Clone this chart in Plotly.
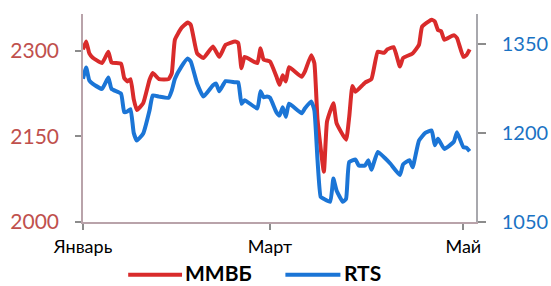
import plotly.graph_objects as go

# ---- data ----
mmvb_dates = [
    "2014-01-01", "2014-01-02", "2014-01-03", "2014-01-04", "2014-01-07", "2014-01-09",
    "2014-01-10", "2014-01-13", "2014-01-14", "2014-01-15", "2014-01-16", "2014-01-17",
    "2014-01-18", "2014-01-20", "2014-01-22", "2014-01-23", "2014-01-25", "2014-01-28",
    "2014-01-29", "2014-01-30", "2014-02-01", "2014-02-03", "2014-02-04", "2014-02-06",
    "2014-02-08", "2014-02-11", "2014-02-13", "2014-02-15", "2014-02-18", "2014-02-19",
    "2014-02-20", "2014-02-21", "2014-02-25", "2014-02-26", "2014-02-27", "2014-03-01",
    "2014-03-03", "2014-03-04", "2014-03-05", "2014-03-06", "2014-03-07", "2014-03-11",
    "2014-03-12", "2014-03-14", "2014-03-15", "2014-03-16", "2014-03-18", "2014-03-19",
    "2014-03-21", "2014-03-22", "2014-03-25", "2014-03-26", "2014-03-27", "2014-03-28",
    "2014-03-31", "2014-04-02", "2014-04-04", "2014-04-06", "2014-04-07", "2014-04-09",
    "2014-04-11", "2014-04-12", "2014-04-15", "2014-04-17", "2014-04-18", "2014-04-21",
    "2014-04-22", "2014-04-23", "2014-04-24", "2014-04-25", "2014-04-28", "2014-04-29",
    "2014-05-01", "2014-05-02", "2014-05-03",
]
mmvb_values = [
    2302, 2316, 2295, 2288, 2278, 2298,
    2279, 2277, 2252, 2246, 2250, 2215,
    2196, 2208, 2249, 2261, 2250, 2250,
    2260, 2319, 2339, 2349, 2345, 2295,
    2287, 2307, 2289, 2310, 2316, 2313,
    2269, 2289, 2278, 2304, 2284, 2281,
    2255, 2240, 2257, 2246, 2271, 2254,
    2263, 2292, 2278, 2179, 2088, 2176,
    2208, 2173, 2144, 2184, 2238, 2228,
    2244, 2250, 2298, 2296, 2302, 2306,
    2272, 2287, 2295, 2310, 2342, 2354,
    2351, 2336, 2334, 2319, 2327, 2322,
    2289, 2292, 2302,
]

rts_dates = [
    "2014-01-01", "2014-01-02", "2014-01-03", "2014-01-04", "2014-01-07", "2014-01-09",
    "2014-01-10", "2014-01-13", "2014-01-14", "2014-01-15", "2014-01-16", "2014-01-17",
    "2014-01-18", "2014-01-20", "2014-01-22", "2014-01-23", "2014-01-25", "2014-01-28",
    "2014-01-29", "2014-01-30", "2014-02-01", "2014-02-03", "2014-02-04", "2014-02-06",
    "2014-02-08", "2014-02-11", "2014-02-12", "2014-02-13", "2014-02-15", "2014-02-18",
    "2014-02-19", "2014-02-20", "2014-02-21", "2014-02-25", "2014-02-26", "2014-02-27",
    "2014-02-28", "2014-03-01", "2014-03-03", "2014-03-04", "2014-03-05", "2014-03-06",
    "2014-03-07", "2014-03-11", "2014-03-12", "2014-03-14", "2014-03-15", "2014-03-16",
    "2014-03-17", "2014-03-18", "2014-03-20", "2014-03-21", "2014-03-22", "2014-03-24",
    "2014-03-25", "2014-03-26", "2014-03-28", "2014-03-29", "2014-03-31", "2014-04-01",
    "2014-04-02", "2014-04-04", "2014-04-06", "2014-04-08", "2014-04-11", "2014-04-12",
    "2014-04-14", "2014-04-15", "2014-04-17", "2014-04-19", "2014-04-21", "2014-04-22",
    "2014-04-23", "2014-04-25", "2014-04-28", "2014-04-29", "2014-05-01", "2014-05-02",
    "2014-05-03",
]
rts_values = [
    1291, 1310, 1288, 1283, 1274, 1293,
    1274, 1266, 1235, 1236, 1240, 1200,
    1187, 1199, 1238, 1263, 1261, 1259,
    1271, 1291, 1311, 1325, 1320, 1283,
    1261, 1280, 1283, 1270, 1287, 1285,
    1285, 1249, 1255, 1241, 1270, 1260,
    1261, 1259, 1235, 1229, 1243, 1227,
    1249, 1233, 1241, 1253, 1238, 1154,
    1092, 1089, 1084, 1123, 1103, 1084,
    1089, 1151, 1155, 1145, 1145, 1154,
    1138, 1168, 1159, 1148, 1129, 1147,
    1154, 1142, 1187, 1200, 1204, 1179,
    1190, 1173, 1185, 1201, 1176, 1175,
    1169,
]

month_ticks = ["2014-01-01", "2014-03-01", "2014-05-01"]
month_labels = ["Январь", "Март", "Май"]
left_ticks = [2000, 2150, 2300]
right_ticks = [1050, 1200, 1350]
series_names = ["ММВБ", "RTS"]

RED = "#d92b2b"
BLUE = "#1b75d6"
AXIS = "#b9a3aa"
FONT = "Lato, Carlito, Calibri, sans-serif"

fig = go.Figure()
fig.add_trace(go.Scatter(
    x=mmvb_dates, y=mmvb_values, name=series_names[0], mode="lines",
    line=dict(color=RED, width=4, shape="spline", smoothing=0.4), yaxis="y",
))
fig.add_trace(go.Scatter(
    x=rts_dates, y=rts_values, name=series_names[1], mode="lines",
    line=dict(color=BLUE, width=4, shape="spline", smoothing=0.4), yaxis="y2",
))

fig.update_layout(
    width=551, height=286,
    margin=dict(l=83, r=75, t=14, b=64, autoexpand=False),
    paper_bgcolor="white", plot_bgcolor="white",
    showlegend=False,
    font=dict(family=FONT, color="black"),
    xaxis=dict(
        type="date", range=["2014-01-01", "2014-05-05"],
        tickvals=month_ticks, ticktext=month_labels,
        showgrid=False, zeroline=False, automargin=False,
        showline=True, linecolor=AXIS, linewidth=1.5,
        ticks="outside", ticklen=6, tickcolor="#8c8c8c", tickwidth=1.5,
        tickfont=dict(size=18, color="black", family=FONT),
        ticklabelstandoff=2,
    ),
    yaxis=dict(
        range=[2000, 2364], tickvals=left_ticks,
        showgrid=False, zeroline=False, automargin=False,
        showline=True, linecolor=AXIS, linewidth=1.5,
        ticks="outside", ticklen=6, tickcolor="#8c8c8c", tickwidth=1.5,
        tickfont=dict(size=21, color="#c0504d", family=FONT),
        ticklabelstandoff=12,
    ),
    yaxis2=dict(
        range=[1050, 1400], tickvals=right_ticks,
        overlaying="y", side="right", anchor="x",
        showgrid=False, zeroline=False, automargin=False,
        showline=True, linecolor="#a8a8ad", linewidth=1.5,
        ticks="outside", ticklen=8, tickcolor="#8c8c8c", tickwidth=1.5,
        tickfont=dict(size=20, color="#1a73c4", family=FONT),
        ticklabelstandoff=12,
    ),
)

# manual legend (long line samples, bold labels) below the plot
leg_y = -0.244
fig.add_shape(type="line", xref="paper", yref="paper",
              x0=0.115, x1=0.252, y0=leg_y - 0.01, y1=leg_y - 0.01,
              line=dict(color=RED, width=4))
fig.add_shape(type="line", xref="paper", yref="paper",
              x0=0.515, x1=0.655, y0=leg_y - 0.01, y1=leg_y - 0.01,
              line=dict(color=BLUE, width=4))
fig.add_annotation(xref="paper", yref="paper", x=0.258, y=leg_y,
                   text="<b>" + series_names[0] + "</b>", showarrow=False,
                   xanchor="left", yanchor="middle", borderpad=0,
                   font=dict(size=21, color="black", family=FONT))
fig.add_annotation(xref="paper", yref="paper", x=0.662, y=leg_y,
                   text="<b>" + series_names[1] + "</b>", showarrow=False,
                   xanchor="left", yanchor="middle", borderpad=0,
                   font=dict(size=21, color="black", family=FONT))

# remove the browser's default 8px page margin so the figure sits at (0, 0)
fig.write_html(
    "out.html",
    config={"displayModeBar": False},
    post_script="document.body.style.margin='0';document.body.style.overflow='hidden';",
)
